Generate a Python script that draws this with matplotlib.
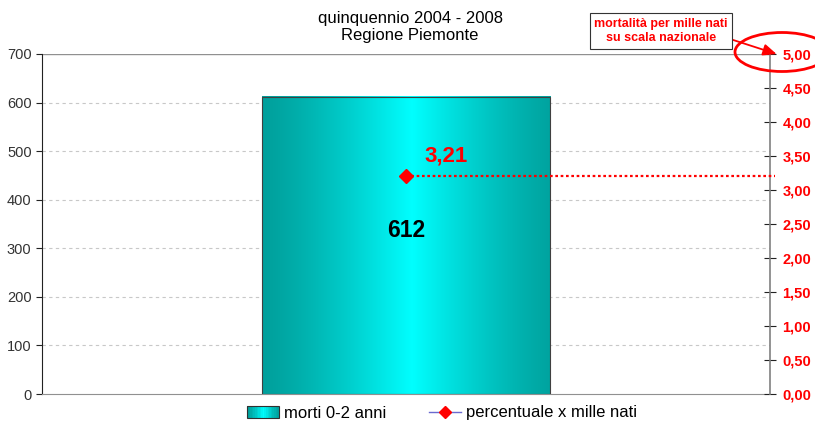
import numpy as np
import matplotlib
matplotlib.use("Agg")
import matplotlib.pyplot as plt
from matplotlib.patches import Rectangle, Ellipse
from matplotlib.lines import Line2D
from matplotlib.legend_handler import HandlerBase

plt.rcParams['font.family'] = ['Liberation Sans', 'DejaVu Sans']

# Data
categories = ["2004-2008"]
deaths = [612]
rate_per_thousand = [3.21]
left_ticks = [0, 100, 200, 300, 400, 500, 600, 700]
right_ticks = [0.0, 0.5, 1.0, 1.5, 2.0, 2.5, 3.0, 3.5, 4.0, 4.5, 5.0]
title = "quinquennio 2004 - 2008\nRegione Piemonte"
legend_labels = ["morti 0-2 anni", "percentuale x mille nati"]

edge_col = np.array([0, 160, 156]) / 255
mid_col = np.array([0, 255, 255]) / 255

def gradient_row(n=256):
    t = np.linspace(0, 1, n)
    w = np.clip(1 - np.abs(t - 0.52) / 0.52, 0, 1) ** 1.3
    return edge_col[None, :] * (1 - w[:, None]) + mid_col[None, :] * w[:, None]

fig = plt.figure(figsize=(8.15, 4.25), dpi=100)
ax = fig.add_axes([42/815, 31/425, 728/815, 340/425])
ax2 = ax.twinx()

x = np.arange(len(categories))
bw = 0.396
bars = ax.bar(x, deaths, width=bw, color='none', edgecolor='#404040', linewidth=0.8, zorder=3)
grad = gradient_row()[None, :, :]
for b in bars:
    x0, y0 = b.get_x(), b.get_y()
    ax.imshow(grad, extent=[x0, x0 + b.get_width(), y0, y0 + b.get_height()],
              aspect='auto', zorder=2, interpolation='bilinear')
    ax.text(b.get_x() + b.get_width()/2, b.get_height() * 0.55, f"{deaths[0]}",
            ha='center', va='center', fontsize=16.5, fontweight='bold', color='black', zorder=5)

ax.set_xlim(-0.5, 0.5)
ax.set_ylim(0, 700)
ax.set_yticks(left_ticks)
ax.set_yticklabels([str(t) for t in left_ticks], fontsize=10.5, color='#333333')
ax.set_xticks([])
for yv in left_ticks[1:-1]:
    ax.axhline(yv, color='#c8c8c8', linestyle=(0, (3, 3)), linewidth=0.8, zorder=1)
ax.axhline(700, color='#909090', linewidth=1, zorder=1)
ax.spines['top'].set_visible(False)
ax.spines['bottom'].set_color('#909090')
ax.spines['left'].set_color('#222222')
ax.spines['right'].set_visible(False)
ax.tick_params(axis='y', length=4, width=0.8, color='#222222')

ax2.set_ylim(0, 5)
ax2.set_yticks(right_ticks)
ax2.set_yticklabels([f"{t:.2f}".replace('.', ',') for t in right_ticks],
                    fontsize=10.5, color='red', fontweight='bold')
ax2.tick_params(axis='y', direction='inout', length=8, width=0.8, color='#222222', pad=5)
for s in ['top', 'left', 'bottom']:
    ax2.spines[s].set_visible(False)
ax2.spines['right'].set_color('#808080')
ax2.spines['right'].set_linewidth(1.2)

ax2.hlines(rate_per_thousand, x, 0.507, colors='red', linestyles=(0, (1.2, 1.2)),
           linewidth=1.6, clip_on=False, zorder=6)
ax2.plot(x, rate_per_thousand, marker='D', color='red', markersize=7, linestyle='none', zorder=7)
ax2.annotate(f"{rate_per_thousand[0]:.2f}".replace('.', ','), (x[0], rate_per_thousand[0]),
             xytext=(29, 14), textcoords='offset points', ha='center', va='center',
             fontsize=16, fontweight='bold', color='red', zorder=8)

fig.text(410/815, 1 - 27/425, title, ha='center', va='center', fontsize=12, linespacing=1.2)

# annotation box + arrow + ellipse
fig.text(661/815, 1 - 31/425, "mortalità per mille nati\nsu scala nazionale", ha='center', va='center',
         fontsize=9, fontweight='bold', color='red', linespacing=1.3,
         bbox=dict(boxstyle='square,pad=0.35', facecolor='white', edgecolor='#333333', linewidth=0.8))
fig.patches.append(Ellipse((782/815, 1 - 52/425), 94/815, 39/425, transform=fig.transFigure,
                           fill=False, edgecolor='red', linewidth=2))
ax2.annotate("", xy=(0.509, 5.0), xycoords='data', xytext=(727/815, 1 - 38/425),
             textcoords='figure fraction',
             arrowprops=dict(arrowstyle='-|>,head_length=0.8,head_width=0.35', color='red', lw=1.3,
                             shrinkA=0, shrinkB=0),
             annotation_clip=False)

class GradHandler(HandlerBase):
    def create_artists(self, legend, orig, xd, yd, width, height, fontsize, trans):
        cols = gradient_row(20)
        arts = []
        n = len(cols)
        for i, c in enumerate(cols):
            arts.append(Rectangle((xd + width * i / n, yd), width / n + 0.3, height,
                                  facecolor=c, edgecolor='none', transform=trans))
        arts.append(Rectangle((xd, yd), width, height, facecolor='none',
                              edgecolor='#303030', linewidth=0.8, transform=trans))
        return arts

h_bar = Rectangle((0, 0), 1, 1)
h_line = Line2D([], [], color='#6a6ad0', marker='D', markerfacecolor='red',
                markeredgecolor='red', markersize=6, linewidth=1)
fig.legend([h_bar, h_line], legend_labels, handler_map={Rectangle: GradHandler()},
           loc='center', bbox_to_anchor=(442/815, 1 - 413/425), ncol=2, frameon=False,
           fontsize=12, columnspacing=2.6, handlelength=1.9, handletextpad=0.3)

fig.savefig("out.png", dpi=100)
